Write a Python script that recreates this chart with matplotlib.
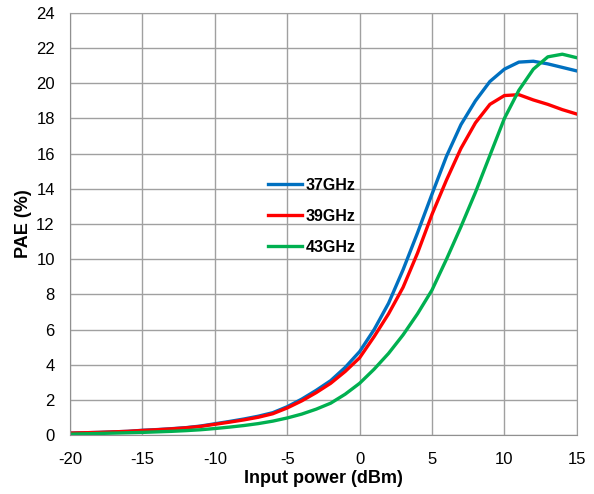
import matplotlib
matplotlib.use("Agg")
import matplotlib.pyplot as plt

# ---------------------------------------------------------------------------
# Data
# ---------------------------------------------------------------------------
pin = list(range(-20, 16))

pae_37 = [0.12, 0.14, 0.16, 0.19, 0.22, 0.28, 0.32, 0.37, 0.43, 0.52,
          0.65, 0.78, 0.92, 1.08, 1.28, 1.62, 2.05, 2.55, 3.10, 3.85,
          4.75, 6.00, 7.50, 9.40, 11.50, 13.70, 15.85, 17.65, 19.00, 20.10,
          20.80, 21.20, 21.25, 21.10, 20.90, 20.70]
pae_39 = [0.12, 0.14, 0.16, 0.19, 0.22, 0.27, 0.31, 0.36, 0.42, 0.50,
          0.62, 0.74, 0.87, 1.02, 1.22, 1.55, 1.95, 2.42, 2.95, 3.62,
          4.40, 5.60, 6.90, 8.40, 10.35, 12.55, 14.50, 16.30, 17.75, 18.80,
          19.30, 19.35, 19.05, 18.80, 18.50, 18.25]
pae_43 = [0.06, 0.08, 0.10, 0.12, 0.14, 0.16, 0.19, 0.22, 0.26, 0.31,
          0.38, 0.46, 0.55, 0.66, 0.80, 0.98, 1.20, 1.48, 1.82, 2.33,
          2.95, 3.75, 4.65, 5.70, 6.90, 8.25, 10.00, 11.85, 13.80, 15.90,
          18.00, 19.60, 20.80, 21.50, 21.65, 21.45]

series = [("37GHz", pae_37, "#0070C0"),
          ("39GHz", pae_39, "#FF0000"),
          ("43GHz", pae_43, "#00B050")]

plt.rcParams["font.family"] = ["Liberation Sans", "DejaVu Sans"]
plt.rcParams["axes.unicode_minus"] = False

fig = plt.figure(figsize=(5.94, 4.94), dpi=100)
ax = fig.add_axes([0.118, 0.119, 0.853, 0.855])

for label, vals, color in series:
    ax.plot(pin, vals, color=color, lw=2.4, label=label)

ax.set_xlim(-20, 15)
ax.set_ylim(0, 24)
ax.set_xticks(range(-20, 16, 5))
ax.set_yticks(range(0, 25, 2))
ax.grid(True, color="#A0A0A0", lw=1.0)
ax.set_axisbelow(True)
for s in ax.spines.values():
    s.set_color("#A0A0A0")
ax.spines["left"].set_color("#909090")
ax.spines["bottom"].set_color("#909090")
ax.tick_params(axis="x", length=0, labelsize=12, pad=12)
ax.tick_params(axis="y", length=0, labelsize=12, pad=11)

ax.set_xlabel("Input power (dBm)", fontsize=13, fontweight="bold", labelpad=2)
ax.set_ylabel("PAE (%)", fontsize=13, fontweight="bold", labelpad=3)

leg = ax.legend(loc="upper left", bbox_to_anchor=(0.378, 0.624), frameon=False,
                prop={"size": 11.5, "weight": "bold"}, handlelength=2.1,
                handletextpad=0.25, labelspacing=1.0, borderaxespad=0.0)

fig.savefig("out.png", dpi=100)
